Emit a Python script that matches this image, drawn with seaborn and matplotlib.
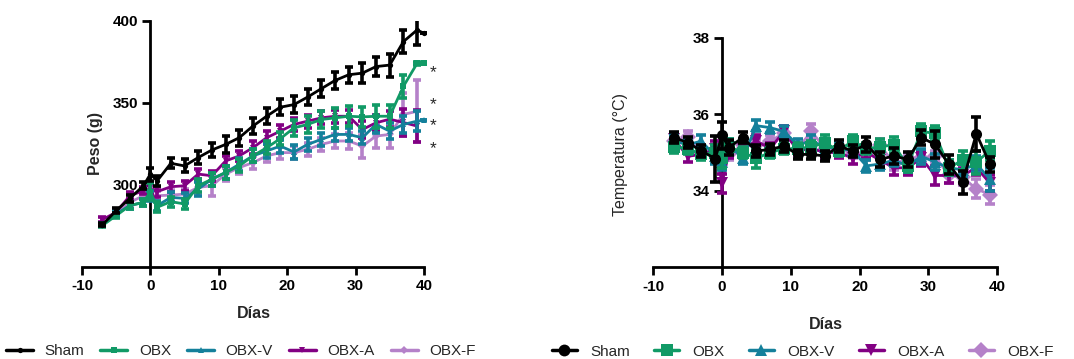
import numpy as np
import pandas as pd
import matplotlib
matplotlib.use("Agg")
import matplotlib.pyplot as plt
from matplotlib.lines import Line2D
import seaborn as sns

days = [-7, -5, -3, -1, 0, 1, 3, 5, 7, 9, 11, 13, 15, 17, 19, 21, 23, 25, 27, 29, 31, 33, 35, 37, 39, 40]
groups = ["Sham", "OBX", "OBX-V", "OBX-A", "OBX-F"]
nan = np.nan

# Body weight (g)
peso_sham = [275.6, 284.2, 291.7, 299.4, 306.5, 302.4, 313.1, 311.5, 316.6, 321.2, 324.6, 328.7, 335.8, 341.8, 347.3, 348.9, 353.5, 358.6, 363.6, 367.1, 368.1, 372.1, 373.0, 387.3, 394.4, 392.4]
peso_obx = [275.2, 281.2, 287.3, 289.3, 295.8, 286.3, 289.7, 288.3, 299.4, 303.4, 307.5, 311.5, 317.6, 322.6, 328.1, 334.7, 336.8, 339.8, 340.8, 341.8, 341.4, 341.8, 341.8, 360.0, 374.0, 374.0]
peso_obxv = [275.6, 282.2, 287.3, 289.3, 293.3, 287.3, 292.3, 291.7, 297.4, 303.4, 307.5, 312.5, 317.6, 320.6, 323.6, 320.0, 324.6, 327.7, 330.7, 330.7, 328.7, 336.8, 332.7, 336.8, 338.8, 339.3]
peso_obxa = [278.8, 283.2, 293.3, 296.4, 297.4, 295.8, 298.8, 299.4, 306.5, 305.5, 314.5, 317.6, 322.6, 328.7, 332.7, 336.8, 338.8, 340.8, 341.8, 341.8, 333.7, 337.8, 340.0, 338.0, 335.8, nan]
peso_obxf = [275.6, 282.2, 289.3, 293.3, 294.3, 293.3, 293.7, 294.3, 298.4, 299.4, 306.5, 310.5, 313.5, 317.6, 319.6, 319.6, 321.6, 324.6, 326.7, 326.7, 323.6, 329.7, 330.7, 342.9, 344.8, nan]

peso_sem_sham = [1, 1.5, 2, 2, 4, 3, 3, 4, 4, 4, 5, 5, 5, 5, 5, 5, 5, 5, 5, 5, 6, 6, 7, 7, 9, nan]
peso_sem_obx = [1, 1.5, 2, 2, 5, 3, 3, 3, 4, 4, 4, 4, 4, 4, 4, 5, 5, 5, 6, 6, 6, 7, 7, 7, 1, nan]
peso_sem_obxv = [1, 1.5, 2, 2, 3, 3, 3, 3, 4, 4, 4, 4, 4, 4, 4, 4, 4, 4, 4, 4, 4, 5, 5, 5, 6, nan]
peso_sem_obxa = [1.5, 1.5, 2, 2, 3, 3, 3, 3, 3, 3, 3, 3, 4, 4, 4, 4, 4, 4, 4, 4, 5, 5, 5, 8, 10, nan]
peso_sem_obxf = [1, 1.5, 2, 2, 3, 3, 3, 3, 4, 6, 4, 4, 4, 4, 4, 4, 4, 4, 4, 5, 7, 7, 8, 13, 19, nan]

# Temperature (°C)
temp_sham = [35.39, 35.26, 35.04, 34.84, 35.45, 35.13, 35.39, 35.04, 35.08, 35.17, 34.95, 34.95, 34.91, 35.17, 35.04, 35.21, 34.82, 34.91, 34.82, 35.39, 35.21, 34.69, 34.22, 35.49, 34.69, nan]
temp_obx = [35.15, 35.10, 34.95, 35.00, 34.85, 35.15, 35.00, 34.85, 35.00, 35.10, 35.10, 35.15, 35.25, 35.05, 35.30, 35.10, 35.15, 35.20, 34.65, 35.55, 35.50, 34.60, 34.80, 34.75, 35.05, nan]
temp_obxv = [35.30, 35.20, 35.30, 34.90, 34.75, 35.20, 34.85, 35.70, 35.65, 35.55, 35.20, 35.30, 35.15, 35.10, 35.05, 34.65, 34.70, 34.80, 34.65, 34.90, 34.75, 34.60, 34.55, 34.70, 34.30, nan]
temp_obxa = [35.35, 34.90, 34.95, 35.10, 34.20, 35.00, 35.10, 35.30, 35.10, 35.55, 35.05, 35.10, 35.00, 35.00, 34.85, 35.00, 34.80, 34.60, 34.60, 34.85, 34.40, 34.40, 34.40, 34.60, 34.20, nan]
temp_obxf = [35.30, 35.40, 35.00, 35.00, 35.15, 34.95, 35.20, 35.20, 35.30, 35.50, 35.10, 35.55, 35.10, 35.10, 35.00, 34.95, 35.20, 34.70, 34.85, 34.85, 34.90, 34.40, 34.35, 34.05, 33.90, nan]

temp_sem_sham = [0.15, 0.15, 0.15, 0.6, 0.35, 0.2, 0.15, 0.15, 0.15, 0.15, 0.12, 0.12, 0.12, 0.15, 0.15, 0.2, 0.2, 0.2, 0.2, 0.2, 0.35, 0.25, 0.3, 0.45, 0.2, nan]
temp_sem_obx = [0.15, 0.15, 0.15, 0.2, 0.25, 0.2, 0.15, 0.25, 0.15, 0.15, 0.15, 0.15, 0.2, 0.15, 0.15, 0.15, 0.2, 0.2, 0.15, 0.2, 0.2, 0.2, 0.25, 0.3, 0.25, nan]
temp_sem_obxv = [0.15, 0.15, 0.15, 0.2, 0.2, 0.15, 0.15, 0.15, 0.15, 0.15, 0.15, 0.15, 0.15, 0.15, 0.15, 0.15, 0.15, 0.15, 0.15, 0.2, 0.2, 0.2, 0.2, 0.2, 0.3, nan]
temp_sem_obxa = [0.1, 0.15, 0.1, 0.2, 0.25, 0.15, 0.15, 0.15, 0.15, 0.15, 0.15, 0.15, 0.15, 0.15, 0.15, 0.15, 0.15, 0.2, 0.2, 0.2, 0.25, 0.2, 0.2, 0.2, 0.2, nan]
temp_sem_obxf = [0.1, 0.15, 0.1, 0.15, 0.15, 0.15, 0.15, 0.15, 0.15, 0.15, 0.15, 0.2, 0.15, 0.15, 0.15, 0.15, 0.15, 0.15, 0.15, 0.15, 0.15, 0.2, 0.2, 0.25, 0.25, nan]

peso_ticks = [300, 350, 400]
temp_ticks = [34, 36, 38]
x_ticks = [-10, 0, 10, 20, 30, 40]
stars_y = [368.5, 349.0, 336.0, 322.0]

colors = {"Sham": "#000000", "OBX": "#119a66", "OBX-V": "#14809b", "OBX-A": "#820083", "OBX-F": "#b581c9"}
markers = {"Sham": "o", "OBX": "s", "OBX-V": "^", "OBX-A": "v", "OBX-F": "D"}

peso = {"Sham": (peso_sham, peso_sem_sham), "OBX": (peso_obx, peso_sem_obx),
        "OBX-V": (peso_obxv, peso_sem_obxv), "OBX-A": (peso_obxa, peso_sem_obxa),
        "OBX-F": (peso_obxf, peso_sem_obxf)}
temp = {"Sham": (temp_sham, temp_sem_sham), "OBX": (temp_obx, temp_sem_obx),
        "OBX-V": (temp_obxv, temp_sem_obxv), "OBX-A": (temp_obxa, temp_sem_obxa),
        "OBX-F": (temp_obxf, temp_sem_obxf)}

sns.set_theme(style="ticks")
plt.rcParams["font.family"] = ["Liberation Sans", "DejaVu Sans"]
plt.rcParams["axes.unicode_minus"] = False

def long_df(d):
    rows = []
    for g in groups:
        vals, sems = d[g]
        for x, v, s in zip(days, vals, sems):
            if not np.isnan(v):
                rows.append({"Días": x, "valor": v, "sem": s, "grupo": g})
    return pd.DataFrame(rows)

fig = plt.figure(figsize=(10.74, 3.59), dpi=100)
ax1 = fig.add_axes([0.0763, 0.257, 0.3203, 0.685])
ax2 = fig.add_axes([0.6083, 0.2554, 0.3219, 0.6396])

draw_order = ["OBX-F", "OBX-A", "OBX-V", "OBX", "Sham"]

def panel(ax, d, msize, lw, elw, cap):
    df = long_df(d)
    for i, g in enumerate(draw_order):
        sub = df[df["grupo"] == g]
        ax.errorbar(sub["Días"], sub["valor"], yerr=sub["sem"].fillna(0), fmt="none",
                    ecolor=colors[g], elinewidth=elw, capsize=cap, capthick=elw, zorder=2 + i)
        sns.lineplot(data=sub, x="Días", y="valor", color=colors[g], marker=markers[g],
                     markersize=msize, markeredgewidth=0, linewidth=lw, ax=ax,
                     errorbar=None, sort=True, zorder=2.5 + i, legend=False)

panel(ax1, peso, 3.8, 2.0, 2.6, 3.2)
panel(ax2, temp, 8.0, 2.0, 2.6, 3.6)

def style(ax, ylim, yticks, ylabel, ybold, xlabelpad):
    ax.set_xlim(-10, 40.3)
    ax.set_ylim(*ylim)
    ax.set_xticks(x_ticks)
    ax.set_yticks(yticks)
    ax.spines["left"].set_position(("data", 0))
    ax.spines["left"].set_bounds(ylim[0], ylim[1])
    ax.spines["bottom"].set_bounds(-10, 40)
    for s in ("top", "right"):
        ax.spines[s].set_visible(False)
    for s in ("left", "bottom"):
        ax.spines[s].set_linewidth(2.0)
        ax.spines[s].set_color("black")
        ax.spines[s].set_zorder(1)
    ax.tick_params(axis="both", direction="out", width=2.0, length=6, labelsize=11, pad=3, colors="black")
    for lab in ax.get_xticklabels() + ax.get_yticklabels():
        lab.set_fontweight("bold")
    ax.set_xlabel("Días", fontsize=11.5, fontweight="bold", labelpad=xlabelpad)
    ax.set_ylabel(ylabel, fontsize=11.5, fontweight=ybold)
    ax.patch.set_alpha(0)

style(ax1, (250, 400), peso_ticks, "Peso (g)", "bold", 9)
style(ax2, (32, 38), temp_ticks, "Temperatura (°C)", "normal", 17)
ax1.yaxis.set_label_coords(0.061, 0.503)
ax2.yaxis.set_label_coords(-0.073, 0.49)

for y in stars_y:
    ax1.text(41.3, y, "*", fontsize=12.5, ha="center", va="center")

def handles(msize):
    return [Line2D([0], [0], color=colors[g], marker=markers[g], markersize=msize,
                   markeredgewidth=0, linewidth=2.5) for g in groups]

fig.legend(handles(3.8), groups, loc="center left", bbox_to_anchor=(0.0, 0.022), ncol=5,
           frameon=False, fontsize=11, handlelength=1.77, handletextpad=0.75, columnspacing=1.05,
           borderaxespad=0)
fig.legend(handles(8.5), groups, loc="center left", bbox_to_anchor=(0.508, 0.02), ncol=5,
           frameon=False, fontsize=11, handlelength=1.65, handletextpad=0.85, columnspacing=1.6,
           borderaxespad=0)

fig.savefig("out.png", dpi=100)
